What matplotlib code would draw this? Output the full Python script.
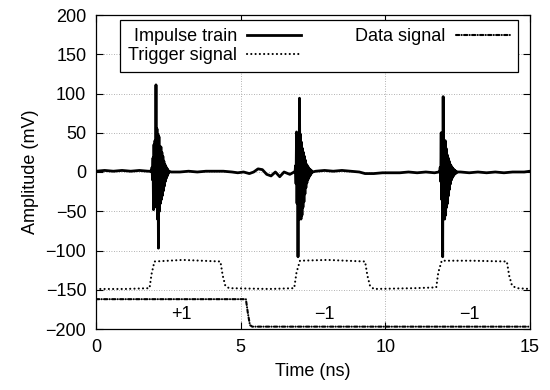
import matplotlib
matplotlib.use("Agg")
import matplotlib.pyplot as plt
import numpy as np

plt.rcParams['font.family'] = ['Liberation Sans', 'DejaVu Sans']
plt.rcParams['font.size'] = 13

# ---------------- data ----------------
# impulse train: baseline knots (ns, mV)
base_t = [0.0, 0.3, 0.6, 0.9, 1.2, 1.5, 1.8, 1.9,
          2.6, 2.9, 3.2, 3.5, 3.8, 4.1, 4.4, 4.7, 4.9, 5.1, 5.3, 5.45, 5.6, 5.75, 5.9, 6.05, 6.2, 6.35, 6.5, 6.7, 6.85,
          7.6, 7.9, 8.2, 8.5, 8.8, 9.1, 9.3, 9.6, 9.9, 10.2, 10.5, 10.8, 11.1, 11.4, 11.7, 11.85,
          12.6, 12.9, 13.2, 13.5, 13.8, 14.1, 14.4, 14.6, 14.8, 15.0]
base_v = [1, 2, 1, 2, 1, 2, 1, 1,
          0, 0, 1, 0, 1, 1, 1, 0, -1, 0, -2, 0, 4, 3, -3, -5, 0, -6, 0, -3, 0,
          1, 2, 1, 2, 1, 0, -2, -2, -1, -1, -1, 0, -1, 0, -1, 0,
          0, -1, 0, -1, 0, -1, 0, 0, 0, 1]

# ringing of the three pulses, sampled every 0.017 ns from pulse start
pulse_start = [1.92, 6.88, 11.88]
pulse_1 = [0, 6, -10, 18, -48, 35, -45, 40, -30, 111, -25, 55, -60, 48, -97, 45, -50, 30,
           -40, 32, -35, 25, -30, 20, -24, 14, -18, 10, -12, 7, -8, 5, -5, 3, -2, 1]
pulse_2 = [0, 8, -15, 51, -40, 45, -108, 40, -60, 94, -30, 48, -60, 38, -55, 30, -45, 25,
           -38, 20, -28, 15, -20, 10, -14, 8, -10, 6, -7, 4, -5, 3, -3, 2, -1, 0]
pulse_3 = [0, 6, -12, 50, -35, 40, -108, 96, -50, 35, -60, 40, -55, 30, -45, 22, -40, 18,
           -30, 14, -22, 10, -15, 8, -10, 6, -7, 4, -5, 3, -3, 2, -2, 1, -1, 0]

# trigger signal
trig_t = [0.0, 1.0, 1.85, 1.92, 2.02, 3.0, 4.3, 4.38, 4.47, 4.6, 6.0, 6.85, 6.93, 7.05, 8.0, 9.3,
          9.38, 9.47, 9.6, 11.0, 11.76, 11.83, 11.95, 13.0, 14.2, 14.28, 14.38, 14.55, 15.0]
trig_v = [-149, -149, -148, -130, -114, -112, -114, -132, -145, -148, -149, -148, -128, -113, -112, -114,
          -132, -145, -149, -148, -147, -128, -113, -113, -114, -132, -145, -148, -149]

# data signal
data_t = [0.0, 2.5, 5.18, 5.25, 5.32, 5.4, 10.0, 15.0]
data_v = [-162, -162, -162, -180, -195, -197, -197, -197]

bit_t = [2.95, 7.9, 12.9]
bit_labels = ['+1', '\u22121', '\u22121']

# ---------------- build impulse series ----------------
dt = 0.017
pulses = [pulse_1, pulse_2, pulse_3]
bt = np.array(base_t)
bv = np.array(base_v, dtype=float)
edges = [0.0]
for s, p in zip(pulse_start, pulses):
    edges += [s, s + dt * (len(p) - 1)]
edges.append(15.0)
imp_t, imp_v = [], []
for k in range(len(pulses) + 1):
    lo, hi = edges[2 * k], edges[2 * k + 1]
    m = (bt >= lo) & (bt <= hi)
    imp_t += list(bt[m])
    imp_v += list(bv[m])
    if k < len(pulses):
        s = pulse_start[k]
        imp_t += [s + dt * i for i in range(len(pulses[k]))]
        imp_v += pulses[k]

# ---------------- plot ----------------
fig = plt.figure(figsize=(5.5, 3.9), dpi=100)
ax = fig.add_axes([96 / 550, 61 / 390, 434 / 550, 314 / 390])

ax.plot(imp_t, imp_v, color='black', lw=2.0, label='Impulse train')
ax.plot(trig_t, trig_v, color='black', lw=1.5, linestyle=(0, (0.05, 2.0)),
        dash_capstyle='round', label='Trigger signal')
ax.plot(data_t, data_v, color='black', lw=1.5, linestyle=(0, (1.6, 1.1, 0.05, 1.1)),
        dash_capstyle='round', label='Data signal')

for t, s in zip(bit_t, bit_labels):
    ax.text(t, -182, s, ha='center', va='center', fontsize=13)

ax.set_xlim(0, 15)
ax.set_ylim(-200, 200)
ax.set_xticks([0, 5, 10, 15])
ax.set_yticks(np.arange(-200, 201, 50))
ax.set_yticklabels([f'{v}'.replace('-', '\u2212') for v in range(-200, 201, 50)])
ax.tick_params(direction='in', top=True, right=True, length=5, width=0.8, labelsize=13, pad=7)
ax.grid(True, color='#999999', linestyle=(0, (1, 2)), lw=0.6)
for sp in ax.spines.values():
    sp.set_linewidth(0.9)
ax.set_xlabel('Time (ns)', fontsize=13, labelpad=5)
ax.set_ylabel('Amplitude (mV)', fontsize=13, labelpad=5)

leg = ax.legend(ncol=2, markerfirst=False, loc='upper left',
                bbox_to_anchor=((120 - 96) / 434, (329 - 20) / 314), fancybox=False,
                edgecolor='black', framealpha=1, handlelength=3.0, borderaxespad=0,
                borderpad=0.45, labelspacing=0.1, handletextpad=0.55, columnspacing=3.0,
                fontsize=13)
leg.get_frame().set_linewidth(0.9)

fig.savefig('out.png', dpi=100)
